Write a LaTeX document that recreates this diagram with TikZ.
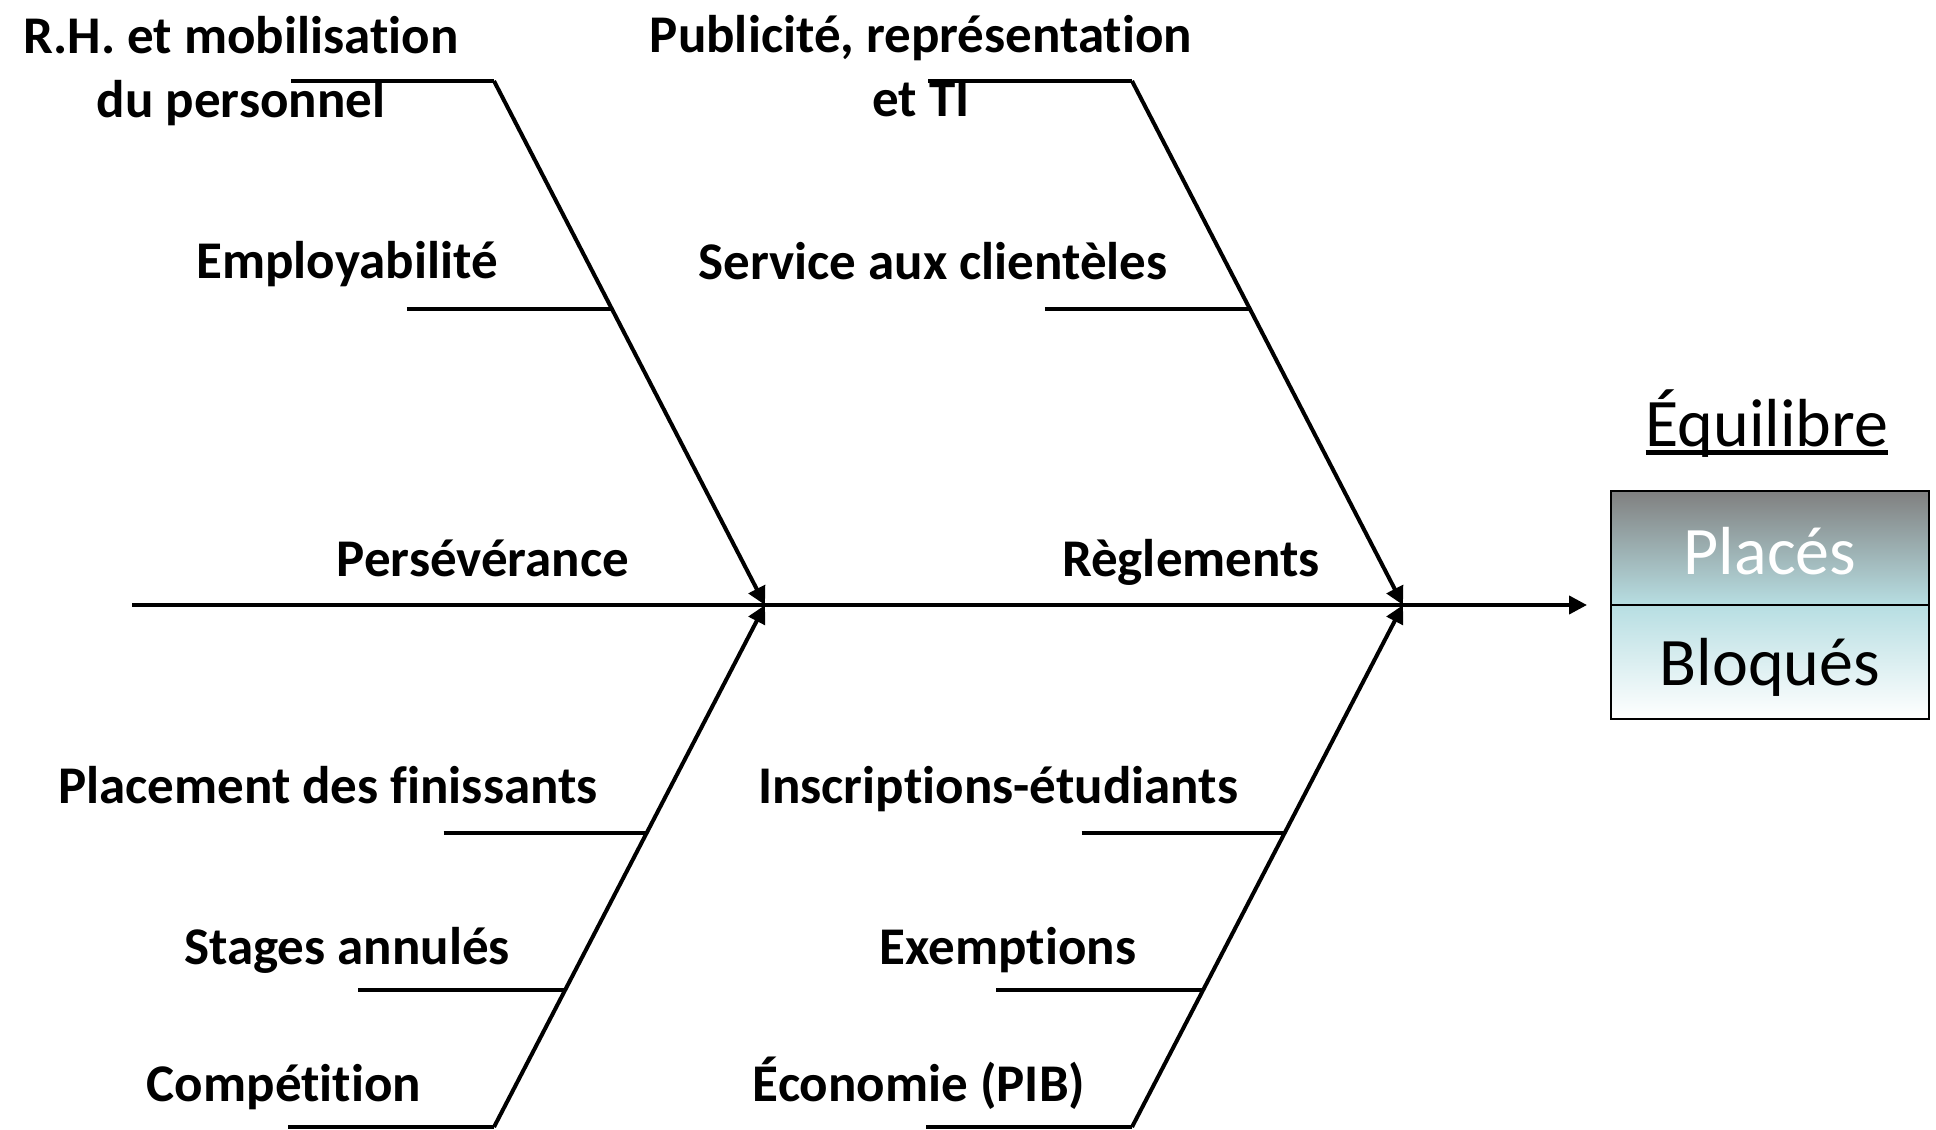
\documentclass[tikz,border=0pt]{standalone}
\usepackage{fontspec}
\setmainfont{Carlito}[RawFeature={-liga,-clig,-calt,-dlig}]
\usetikzlibrary{arrows.meta,calc}
\definecolor{boxgray}{RGB}{128,128,128}
\definecolor{boxteal}{RGB}{183,222,226}
\newcommand\thickul[1]{\setbox0\hbox{#1}\rlap{\rule[-8pt]{\wd0}{5pt}}\box0}

\begin{document}
\begin{tikzpicture}[x=1pt, y=-1pt,
bone/.style={line width=4pt, -{Triangle[length=18pt,width=18pt]}},
rib/.style={line width=4pt},
causetext/.style={font=\fontsize{53}{64}\selectfont\bfseries, align=center, inner sep=0pt},
effecttext/.style={font=\fontsize{68}{80}\selectfont, inner sep=0pt},
cell/.style={draw=black, line width=2pt, minimum width=318pt, minimum height=114pt, inner sep=0pt, font=\fontsize{68}{80}\selectfont}
]
    \useasboundingbox (0,0) rectangle (1936,1130);

    \coordinate (tail) at (132,605);
    \coordinate (head) at (1587,605);
    \coordinate (j1) at (765,605);
    \coordinate (j2) at (1403,605);

    \coordinate (a1) at (494,81);
    \coordinate (a2) at (1132,81);
    \coordinate (c1) at (494,1127);
    \coordinate (c2) at (1132,1127);

    % points where the ribs meet the bones
    \coordinate (b1) at ($(a1)!0.435!(j1)$);
    \coordinate (b2) at ($(a2)!0.435!(j2)$);
    \coordinate (d1) at ($(j1)!0.437!(c1)$);
    \coordinate (d2) at ($(j2)!0.437!(c2)$);
    \coordinate (f1) at ($(j1)!0.7375!(c1)$);
    \coordinate (f2) at ($(j2)!0.7375!(c2)$);

    \coordinate (ea1) at ($(a1)+(-203,0)$);
    \coordinate (ea2) at ($(a2)+(-204,0)$);
    \coordinate (eb1) at ($(b1)+(-205,0)$);
    \coordinate (eb2) at ($(b2)+(-205,0)$);
    \coordinate (ed1) at ($(d1)+(-203,0)$);
    \coordinate (ed2) at ($(d2)+(-203,0)$);
    \coordinate (ef1) at ($(f1)+(-207,0)$);
    \coordinate (ef2) at ($(f2)+(-207,0)$);
    \coordinate (ec1) at ($(c1)+(-206,0)$);
    \coordinate (ec2) at ($(c2)+(-206,0)$);

    \draw (tail) edge[bone] (head);
    \draw (a1) edge[bone] (j1);
    \draw (a2) edge[bone] (j2);
    \draw (c1) edge[bone] (j1);
    \draw (c2) edge[bone] (j2);

    \draw (ea1) edge[rib] (a1);
    \draw (ea2) edge[rib] (a2);
    \draw (eb1) edge[rib] (b1);
    \draw (eb2) edge[rib] (b2);
    \draw (ed1) edge[rib] (d1);
    \draw (ed2) edge[rib] (d2);
    \draw (ef1) edge[rib] (f1);
    \draw (ef2) edge[rib] (f2);
    \draw (ec1) edge[rib] (c1);
    \draw (ec2) edge[rib] (c2);

    \node [causetext] (rh) at (241,71) {R.H. et mobilisation\\du personnel};
    \node [causetext] (pub) at (921,66) {Publicité, représentation\\et TI};
    \node [causetext] (emp) at (347,264) {Employabilité};
    \node [causetext] (serv) at (933,261) {Service aux clientèles};
    \node [causetext] (pers) at (483,558) {Persévérance};
    \node [causetext] (regl) at (1191,562) {Règlements};
    \node [causetext] (plac) at (328,785) {Placement des finissants};
    \node [causetext] (insc) at (998,789) {Inscriptions-étudiants};
    \node [causetext] (stag) at (347,950) {Stages annulés};
    \node [causetext] (exem) at (1008,950) {Exemptions};
    \node [causetext] (comp) at (284,1087) {Compétition};
    \node [causetext] (econ) at (919,1083) {Économie (PIB)};

    \node [effecttext] (equi) at (1767,424) {\thickul{Équilibre}};
    \node [cell, top color=boxgray, bottom color=boxteal, text=white, text height=52pt, text depth=0pt] (places) at (1770,548) {Placés};
    \node [cell, top color=boxteal, bottom color=white, text height=56pt, text depth=10pt] (bloques) at (1770,662) {Bloqués};
\end{tikzpicture}
\end{document}
